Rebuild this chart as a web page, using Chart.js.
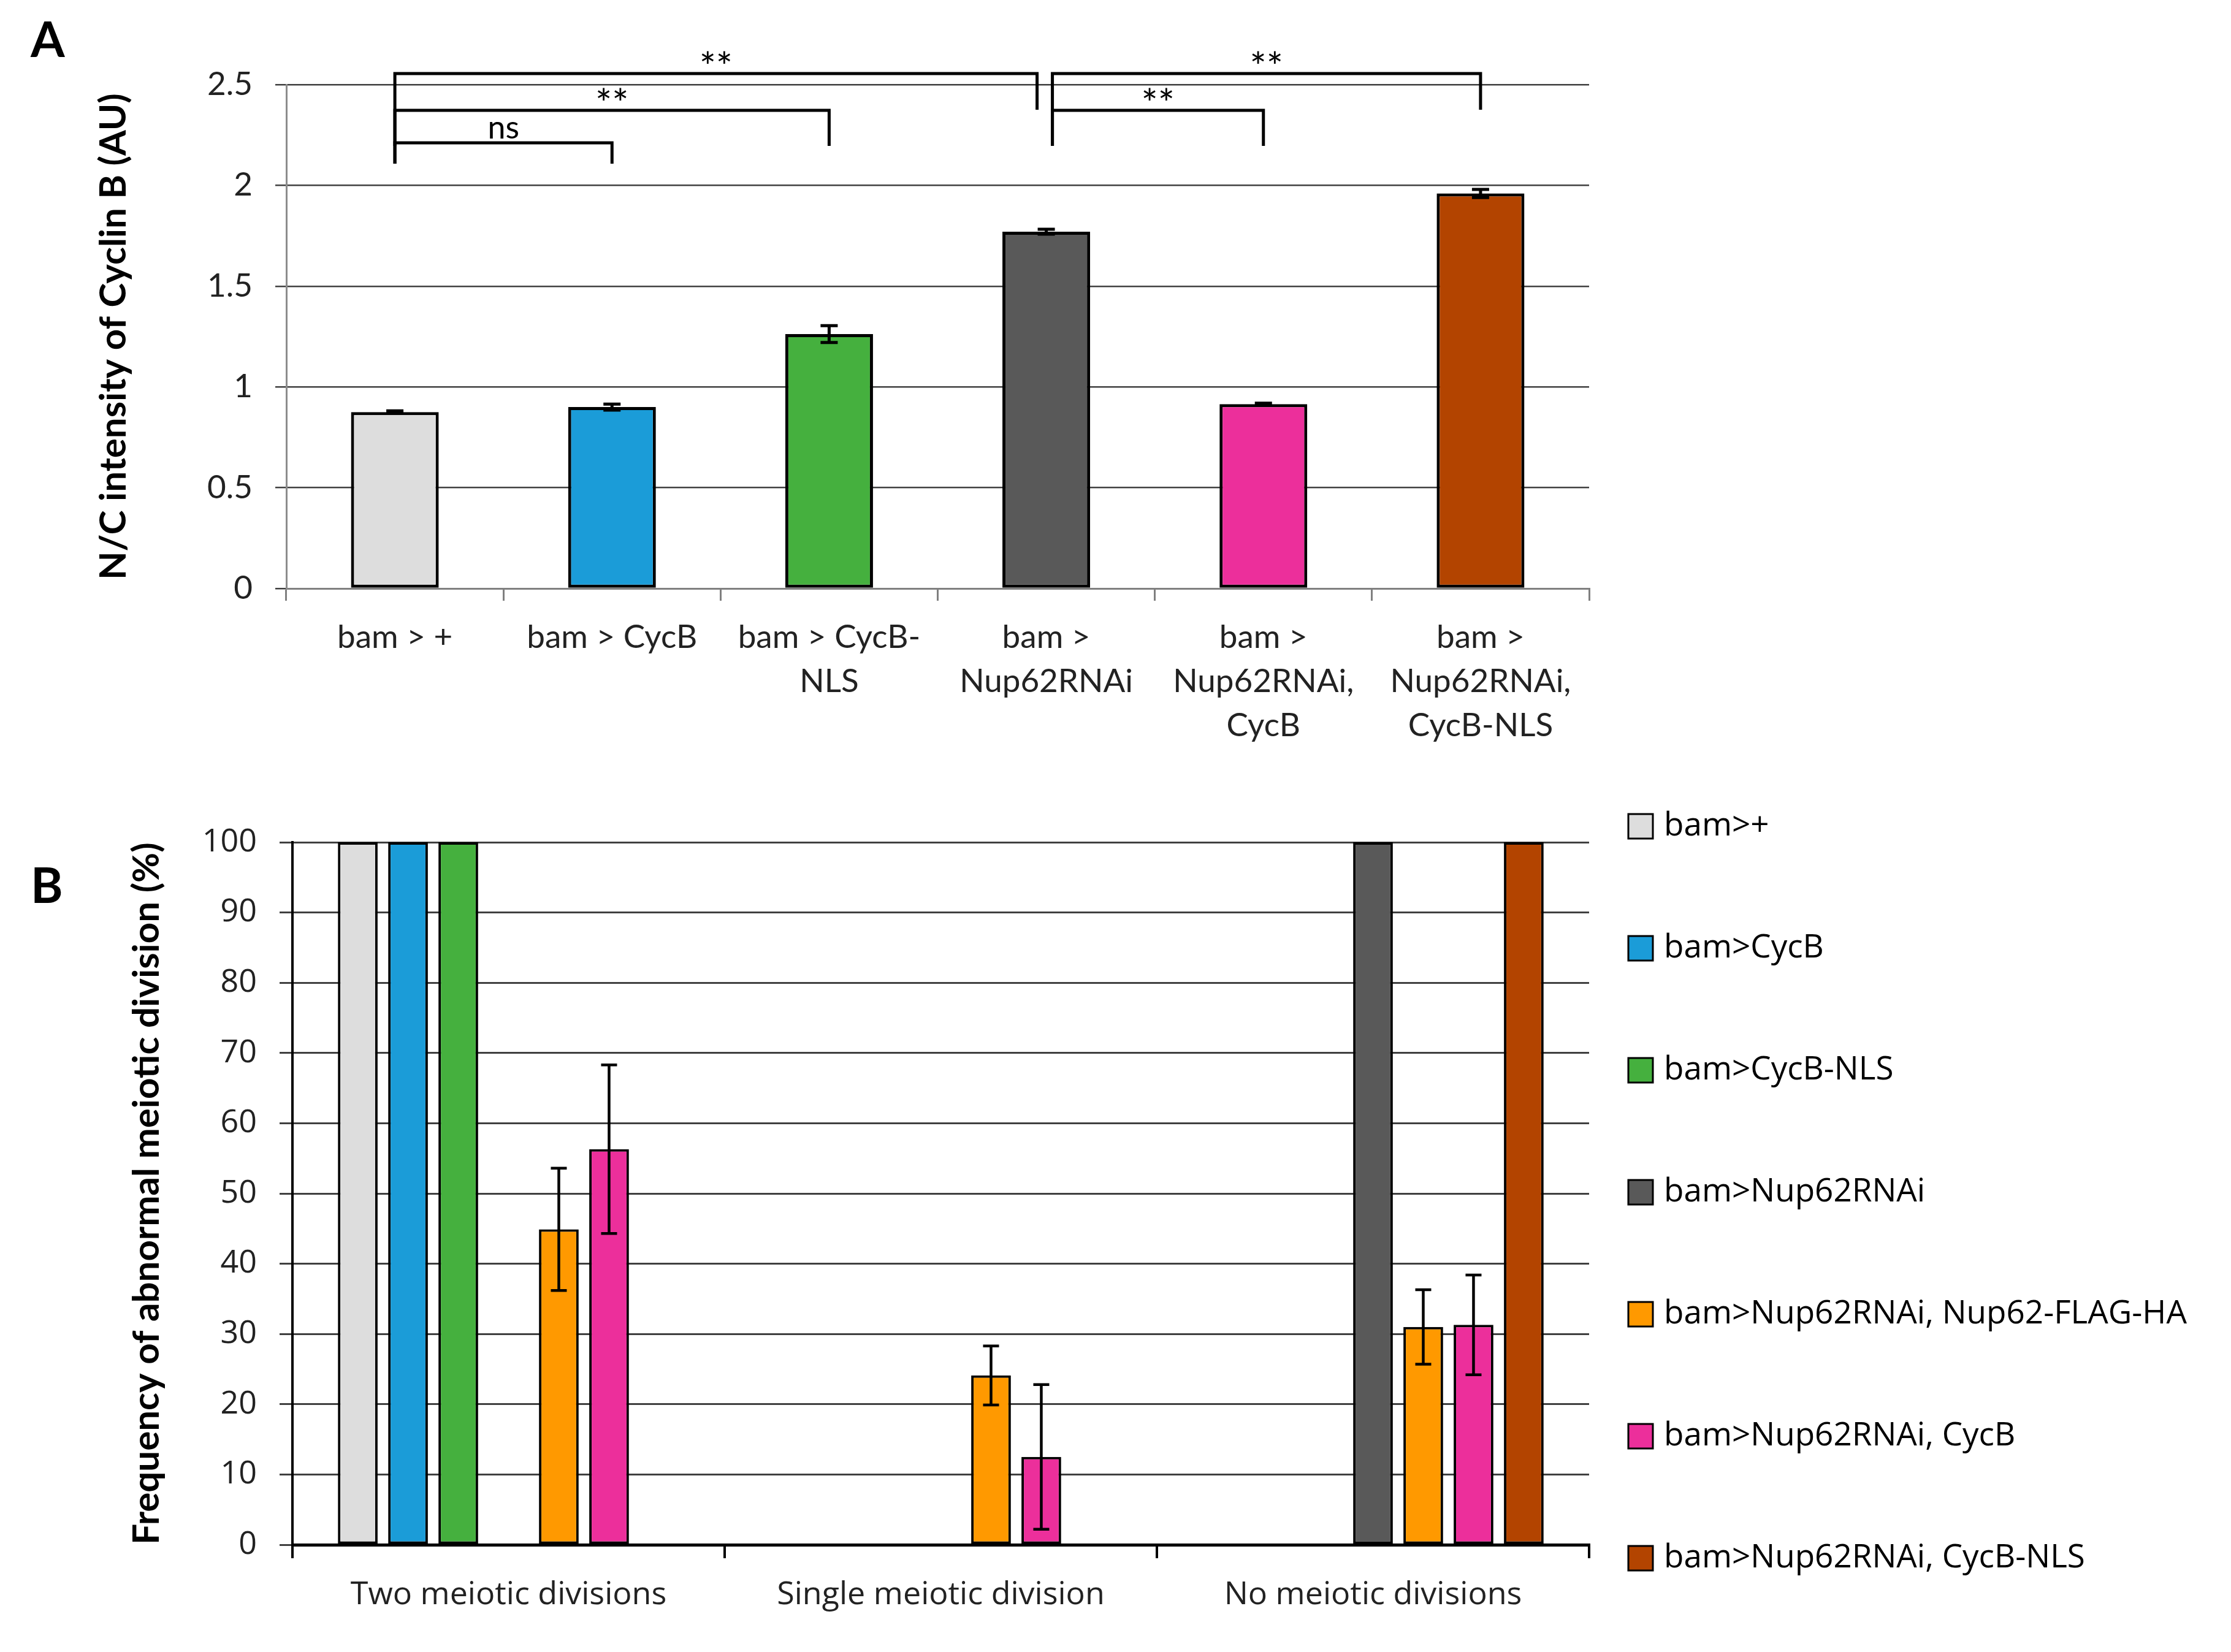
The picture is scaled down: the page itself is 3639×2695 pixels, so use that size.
<!DOCTYPE html>
<html>
<head>
<meta charset="utf-8">
<script src="https://cdn.jsdelivr.net/npm/chart.js@4.4.1/dist/chart.umd.min.js"></script>
<style>
  body { margin: 0; background: #fff; }
  #page { position: relative; width: 3639px; height: 2695px; }
  canvas { position: absolute; }
  .panel { position: absolute; font-family: Lato, sans-serif; font-weight: bold; font-size: 80px; color: #000; line-height: 1; }
</style>
</head>
<body>
<div id="page">
  <div class="panel" style="left:50px; top:22px;">A</div>
  <div class="panel" style="left:50px; top:1402px;">B</div>
  <canvas id="chart_a" width="2700" height="1240" style="left:0; top:0;"></canvas>
  <canvas id="chart_b" width="3639" height="1445" style="left:0; top:1250px;"></canvas>
</div>
<script>
// panel A: nuclear / cytoplasmic cyclin B
var genotypesA = ['bam > +', 'bam > CycB', ['bam > CycB-', 'NLS'], ['bam >', 'Nup62RNAi'],
  ['bam >', 'Nup62RNAi,', 'CycB'], ['bam >', 'Nup62RNAi,', 'CycB-NLS']];
var ratioA = [0.875, 0.90, 1.262, 1.77, 0.915, 1.96];
var ratioErrA = [0.006, 0.015, 0.042, 0.012, 0.004, 0.02];

// significance brackets: bar indexes, height of the bar line, heights the ends drop to
var sigBrackets = [
  { from: 0, to: 3, y: 2.555, dropFrom: 2.108, dropTo: 2.375, label: '**' },
  { from: 0, to: 2, y: 2.372, dropFrom: 2.196, dropTo: 2.196, label: '**' },
  { from: 0, to: 1, y: 2.211, dropFrom: 2.108, dropTo: 2.108, label: 'ns' },
  { from: 3, to: 5, y: 2.555, dropFrom: 2.196, dropTo: 2.375, label: '**' },
  { from: 3, to: 4, y: 2.372, dropFrom: 2.196, dropTo: 2.196, label: '**' }
];

// panel B: meiotic division phenotypes
var stagesB = ['Two meiotic divisions', 'Single meiotic division', 'No meiotic divisions'];
var labelsB = ['bam>+', 'bam>CycB', 'bam>CycB-NLS', 'bam>Nup62RNAi',
  'bam>Nup62RNAi, Nup62-FLAG-HA', 'bam>Nup62RNAi, CycB', 'bam>Nup62RNAi, CycB-NLS'];
var freqBamPlus = [100, 0, 0];
var freqCycB = [100, 0, 0];
var freqCycBNLS = [100, 0, 0];
var freqNup62 = [0, 0, 100];
var freqNup62Rescue = [44.9, 24.1, 31.0];
var freqNup62CycB = [56.3, 12.5, 31.3];
var freqNup62CycBNLS = [0, 0, 100];
var errNup62Rescue = [8.7, 4.2, 5.3];
var errNup62CycB = [12.0, 10.3, 7.1];

var colors = ['#dddddd', '#1b9cd8', '#45b03e', '#595959', '#ff9900', '#ec2f9b', '#b34400'];
var colorsA = [colors[0], colors[1], colors[2], colors[3], colors[5], colors[6]];

var errorBars = {
  id: 'errorBars',
  afterDatasetsDraw: function(chart, args, opts) {
    var ctx = chart.ctx;
    var yScale = chart.scales.y;
    chart.data.datasets.forEach(function(ds, di) {
      if (!ds.errors) return;
      var meta = chart.getDatasetMeta(di);
      meta.data.forEach(function(bar, i) {
        var e = ds.errors[i];
        if (!e) return;
        var v = ds.data[i];
        var yt = yScale.getPixelForValue(v + e);
        var yb = yScale.getPixelForValue(Math.max(v - e, 0));
        ctx.save();
        ctx.strokeStyle = '#000';
        ctx.lineWidth = opts.width;
        ctx.beginPath();
        ctx.moveTo(bar.x, yt); ctx.lineTo(bar.x, yb);
        ctx.moveTo(bar.x - opts.cap / 2, yt); ctx.lineTo(bar.x + opts.cap / 2, yt);
        ctx.moveTo(bar.x - opts.cap / 2, yb); ctx.lineTo(bar.x + opts.cap / 2, yb);
        ctx.stroke();
        ctx.restore();
      });
    });
  }
};

var brackets = {
  id: 'brackets',
  afterDatasetsDraw: function(chart, args, opts) {
    if (!opts.items) return;
    var ctx = chart.ctx;
    var xs = chart.scales.x, ys = chart.scales.y;
    var starts = opts.items.map(function(b) { return b.from; });
    var ends = opts.items.map(function(b) { return b.to; });
    ctx.save();
    ctx.strokeStyle = '#000';
    ctx.fillStyle = '#000';
    ctx.lineWidth = 5;
    ctx.textAlign = 'center';
    ctx.textBaseline = 'alphabetic';
    opts.items.forEach(function(b) {
      var x1 = xs.getPixelForValue(b.from);
      var x2 = xs.getPixelForValue(b.to);
      if (ends.indexOf(b.from) >= 0) x1 += 10;
      if (starts.indexOf(b.to) >= 0) x2 -= 15;
      var y = ys.getPixelForValue(b.y);
      ctx.beginPath();
      ctx.moveTo(x1, ys.getPixelForValue(b.dropFrom));
      ctx.lineTo(x1, y);
      ctx.lineTo(x2, y);
      ctx.lineTo(x2, ys.getPixelForValue(b.dropTo));
      ctx.stroke();
      if (b.label === 'ns') {
        ctx.font = '52px Lato';
        ctx.fillText(b.label, (x1 + x2) / 2, y - 7);
      } else {
        ctx.font = '64px Lato';
        ctx.fillText(b.label, (x1 + x2) / 2, y + 12);
      }
    });
    ctx.restore();
  }
};

var sideLegend = {
  id: 'sideLegend',
  afterDraw: function(chart, args, opts) {
    if (!opts.display) return;
    var ctx = chart.ctx;
    ctx.save();
    ctx.font = opts.font;
    ctx.textBaseline = 'middle';
    ctx.textAlign = 'left';
    chart.data.datasets.forEach(function(ds, i) {
      var cy = opts.top + i * opts.step;
      ctx.fillStyle = ds.backgroundColor;
      ctx.fillRect(opts.x, cy - opts.box / 2, opts.box, opts.box);
      ctx.lineWidth = 3;
      ctx.strokeStyle = '#000';
      ctx.strokeRect(opts.x, cy - opts.box / 2, opts.box, opts.box);
      ctx.fillStyle = '#000';
      ctx.fillText(ds.label, opts.x + opts.box + opts.gap, cy);
    });
    ctx.restore();
  }
};

var chartA = new Chart(document.getElementById('chart_a'), {
  type: 'bar',
  data: {
    labels: genotypesA,
    datasets: [{
      data: ratioA,
      errors: ratioErrA,
      backgroundColor: colorsA,
      borderColor: '#000',
      borderWidth: 5,
      borderSkipped: false,
      categoryPercentage: 1,
      barPercentage: 0.404
    }]
  },
  options: {
    responsive: false,
    devicePixelRatio: 1,
    animation: false,
    layout: { padding: { top: 138, right: 108, left: 0, bottom: 0 } },
    plugins: {
      legend: { display: false },
      tooltip: { enabled: false },
      errorBars: { width: 5, cap: 28 },
      brackets: { items: sigBrackets }
    },
    scales: {
      x: {
        grid: { offset: true, drawOnChartArea: false, drawTicks: true, tickLength: 20, color: '#808080', lineWidth: 3 },
        border: { color: '#808080', width: 3 },
        ticks: { color: '#222', padding: 24, maxRotation: 0, autoSkip: false,
          font: { family: 'Lato', size: 53, lineHeight: 1.36 } },
        afterFit: function(scale) { scale.height = 280; }
      },
      y: {
        min: 0, max: 2.5,
        grid: { color: '#404040', lineWidth: 2.5, tickLength: 18 },
        border: { color: '#8c8c8c', width: 3 },
        ticks: { stepSize: 0.5, color: '#222', padding: 37, font: { family: 'Lato', size: 53 },
          callback: function(v) { return String(Math.round(v * 10) / 10); } },
        title: { display: true, text: 'N/C intensity of Cyclin B (AU)', color: '#000',
          font: { family: 'Lato', weight: 'bold', size: 60 }, padding: { top: 150, bottom: 0 } },
        afterFit: function(scale) { scale.width = 467; }
      }
    }
  },
  plugins: [errorBars, brackets]
});

var seriesB = [freqBamPlus, freqCycB, freqCycBNLS, freqNup62, freqNup62Rescue, freqNup62CycB, freqNup62CycBNLS];
var errorsB = [null, null, null, null, errNup62Rescue, errNup62CycB, null];

var chartB = new Chart(document.getElementById('chart_b'), {
  type: 'bar',
  data: {
    labels: stagesB,
    datasets: seriesB.map(function(values, i) {
      return {
        label: labelsB[i],
        data: values,
        errors: errorsB[i],
        backgroundColor: colors[i],
        borderColor: '#000',
        borderWidth: 4,
        borderSkipped: false,
        categoryPercentage: 0.814,
        barPercentage: 0.79
      };
    })
  },
  options: {
    responsive: false,
    devicePixelRatio: 1,
    animation: false,
    layout: { padding: { top: 124, right: 1047, left: 0, bottom: 0 } },
    plugins: {
      legend: { display: false },
      tooltip: { enabled: false },
      errorBars: { width: 4.5, cap: 26 },
      sideLegend: { display: true, x: 2656, top: 98, step: 199, box: 40, gap: 18, font: '53px "Open Sans"' }
    },
    scales: {
      x: {
        grid: { offset: true, drawOnChartArea: false, drawTicks: true, tickLength: 22, color: '#000', lineWidth: 4 },
        border: { color: '#000', width: 5 },
        ticks: { color: '#222', padding: 29, maxRotation: 0, autoSkip: false,
          font: { family: 'Open Sans', size: 52 } },
        afterFit: function(scale) { scale.height = 175; }
      },
      y: {
        min: 0, max: 100,
        grid: { color: '#404040', lineWidth: 3, tickLength: 21 },
        border: { color: '#000', width: 4 },
        ticks: { stepSize: 10, color: '#222', padding: 37, font: { family: 'Open Sans', size: 52 } },
        title: { display: true, text: 'Frequency of abnormal meiotic division (%)', color: '#000',
          font: { family: 'Lato', weight: 'bold', size: 60 }, padding: { top: 204, bottom: 0 } },
        afterFit: function(scale) { scale.width = 477; }
      }
    }
  },
  plugins: [errorBars, sideLegend]
});
</script>
</body>
</html>
